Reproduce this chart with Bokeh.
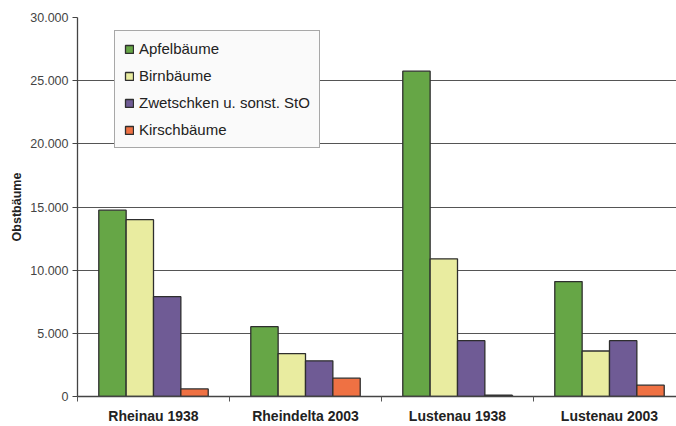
from bokeh.plotting import figure
from bokeh.models import Range1d, FixedTicker, Legend, LegendItem
from bokeh.embed import file_html
from bokeh.resources import INLINE

categories = ["Rheinau 1938", "Rheindelta 2003", "Lustenau 1938", "Lustenau 2003"]
series_names = ["Apfelbäume", "Birnbäume", "Zwetschken u. sonst. StO", "Kirschbäume"]
apfel = [14750, 5530, 25750, 9100]
birn = [14000, 3400, 10900, 3600]
zwetschken = [7900, 2820, 4420, 4420]
kirsch = [600, 1450, 100, 900]
y_ticks = [0, 5000, 10000, 15000, 20000, 25000, 30000]
y_tick_labels = ["0", "5.000", "10.000", "15.000", "20.000", "25.000", "30.000"]
colors = ["#66a646", "#e9eca0", "#6f5b95", "#ef7143"]

series = [apfel, birn, zwetschken, kirsch]

p = figure(width=676, height=426, output_backend="svg", toolbar_location=None,
           x_range=Range1d(0, 599 / 152), y_range=Range1d(0, 30000),
           min_border_left=77, min_border_right=0, min_border_top=17, min_border_bottom=29)
p.outline_line_color = None
p.background_fill_color = "white"
p.border_fill_color = "white"

bar_w = 0.18
group_w = bar_w * 4
renderers = []
for k, (vals, col) in enumerate(zip(series, colors)):
    xs = [i + 0.5 - group_w / 2 + bar_w * (k + 0.5) for i in range(len(categories))]
    r = p.vbar(x=xs, top=vals, bottom=0, width=bar_w, fill_color=col,
               line_color="#2e2e2e", line_width=1.3)
    renderers.append(r)

# x axis
p.xaxis.ticker = FixedTicker(ticks=[i + 0.5 for i in range(len(categories))],
                             minor_ticks=list(range(len(categories) + 1)))
p.xaxis.major_label_overrides = {i + 0.5: c for i, c in enumerate(categories)}
p.xaxis.major_tick_out = 0
p.xaxis.major_tick_in = 0
p.xaxis.minor_tick_in = 0
p.xaxis.minor_tick_out = 5
p.xaxis.minor_tick_line_color = "#555555"
p.xaxis.axis_line_color = "#444444"
p.xaxis.axis_line_width = 1.3
p.xaxis.major_label_text_font = "Liberation Sans"
p.xaxis.major_label_text_font_style = "bold"
p.xaxis.major_label_text_font_size = "14px"
p.xaxis.major_label_text_color = "#222222"
p.xaxis.major_label_standoff = 6
p.xgrid.grid_line_color = None

# y axis
p.yaxis.ticker = FixedTicker(ticks=y_ticks, minor_ticks=[])
p.yaxis.major_label_overrides = {t: l for t, l in zip(y_ticks, y_tick_labels)}
p.yaxis.major_tick_out = 5
p.yaxis.major_tick_in = 0
p.yaxis.major_tick_line_color = "#444444"
p.yaxis.axis_line_color = "#444444"
p.yaxis.axis_line_width = 1.3
p.yaxis.major_label_text_font = "Liberation Sans"
p.yaxis.major_label_text_font_size = "12.5px"
p.yaxis.major_label_text_color = "#444444"
p.yaxis.major_label_standoff = 4
p.yaxis.axis_label = "Obstbäume"
p.yaxis.axis_label_text_font = "Liberation Sans"
p.yaxis.axis_label_text_font_style = "bold"
p.yaxis.axis_label_text_font_size = "12.5px"
p.yaxis.axis_label_text_color = "#222222"
p.yaxis.axis_label_standoff = 3
p.ygrid.grid_line_color = "#555555"
p.ygrid.grid_line_width = 1

legend = Legend(items=[LegendItem(label=n, renderers=[r]) for n, r in zip(series_names, renderers)],
                location=(37, 248))
legend.background_fill_color = "#fafafa"
legend.background_fill_alpha = 1
legend.border_line_color = "#555555"
legend.border_line_width = 1
legend.label_text_font = "Liberation Sans"
legend.label_text_font_size = "15px"
legend.label_text_color = "#222222"
legend.glyph_width = 10
legend.glyph_height = 10
legend.label_height = 14
legend.label_standoff = 5
legend.spacing = 10
legend.padding = 9
legend.margin = 0
p.add_layout(legend, "center")

open("out.html", "w").write(file_html(p, INLINE))
